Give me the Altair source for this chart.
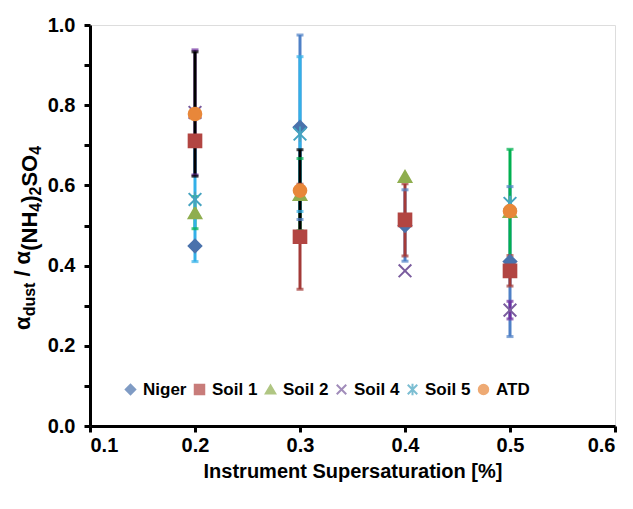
import altair as alt
import pandas as pd

# ---------------- data ----------------
series = ["Niger", "Soil 1", "Soil 2", "Soil 4", "Soil 5", "ATD"]
supersat = [0.2, 0.3, 0.4, 0.5]

niger = [0.449, 0.745, 0.500, 0.410]
niger_err = [0.0, 0.230, 0.089, 0.187]
soil1 = [0.711, 0.472, 0.514, 0.387]
soil1_err = [0.0, 0.131, 0.090, 0.038]
soil2 = [0.532, 0.577, 0.622, 0.535]
soil2_err = [0.040, 0.090, 0.0, 0.155]
soil4 = [0.782, None, 0.387, 0.289]
soil4_err = [0.156, None, 0.0, 0.022]
soil5 = [0.565, 0.728, None, 0.555]
soil5_err = [0.155, 0.193, None, 0.0]
atd = [0.778, 0.587, None, 0.536]
atd_err = [0.155, 0.102, None, 0.0]

marker_colors = ["#4A72AC", "#B24542", "#8FAE4F", "#7A5C9E", "#46A3C0", "#E8873A"]
marker_shapes = ["diamond", "square", "triangle-up",
                 "M-1,-1L1,1M-1,1L1,-1",
                 "M-1,-1L1,1M-1,1L1,-1M0,-1.2L0,1.2",
                 "circle"]
err_colors = ["#4F80C6", "#A33A38", "#00B050", "#7030A0", "#33B0E8", "#000000"]

values = [niger, soil1, soil2, soil4, soil5, atd]
errors = [niger_err, soil1_err, soil2_err, soil4_err, soil5_err, atd_err]

pts, bars, caps = [], [], []
for i, s in enumerate(series):
    for j, xv in enumerate(supersat):
        v = values[i][j]
        if v is None:
            continue
        pts.append({"series": s, "x": xv, "y": v, "order": i})
        e = errors[i][j]
        if e:
            bars.append({"series": s, "x": xv, "lo": v - e, "hi": v + e,
                         "ecolor": err_colors[i], "order": i})
            caps.append({"series": s, "x": xv, "y": v - e, "ecolor": err_colors[i], "order": i})
            caps.append({"series": s, "x": xv, "y": v + e, "ecolor": err_colors[i], "order": i})

pts_df = pd.DataFrame(pts)
bars_df = pd.DataFrame(bars)
caps_df = pd.DataFrame(caps)

FONT = "Liberation Sans"

x_enc = alt.X("x:Q", scale=alt.Scale(domain=[0.1, 0.6], nice=False, zero=False),
              axis=alt.Axis(values=[0.1, 0.2, 0.3, 0.4, 0.5, 0.6], format=".1f",
                            title="Instrument Supersaturation [%]",
                            titleFont=FONT, titleFontSize=20, titleFontWeight="bold",
                            titleColor="black", titlePadding=6,
                            labelFont=FONT, labelFontSize=20, labelFontWeight="bold",
                            labelColor="black", labelPadding=3,
                            tickSize=6, tickWidth=3, tickColor="black",
                            domainWidth=3, domainColor="black", grid=False))

y_scale = alt.Scale(domain=[0, 1], nice=False, zero=True)
y_axis = alt.Axis(values=[round(k * 0.1, 1) for k in range(11)],
                  labelExpr="round(datum.value*10) % 2 == 0 ? format(datum.value, '.1f') : ''",
                  title=None,
                  labelFont=FONT, labelFontSize=20, labelFontWeight="bold",
                  labelColor="black", labelPadding=9,
                  tickSize=6, tickWidth=3, tickColor="black",
                  domainWidth=3, domainColor="black", grid=False)

rules = alt.Chart(bars_df).mark_rule(strokeWidth=3).encode(
    x=x_enc,
    y=alt.Y("lo:Q", scale=y_scale, axis=y_axis),
    y2="hi:Q",
    color=alt.Color("ecolor:N", scale=None),
    order="order:Q",
)

cap_marks = alt.Chart(caps_df).mark_tick(orient="horizontal", size=7, thickness=3).encode(
    x=x_enc,
    y=alt.Y("y:Q", scale=y_scale, axis=y_axis),
    color=alt.Color("ecolor:N", scale=None),
    order="order:Q",
)

legend = alt.Legend(title=None, orient="none", legendX=32, legendY=356,
                    direction="horizontal", columns=6, gridAlign="none",
                    labelFont=FONT, labelFontSize=17, labelFontWeight="bold",
                    labelColor="black", symbolSize=90, symbolStrokeWidth=2,
                    labelOffset=4, columnPadding=3, symbolOpacity=1)

points = alt.Chart(pts_df).mark_point(filled=True, opacity=1, size=160, strokeWidth=2).encode(
    x=x_enc,
    y=alt.Y("y:Q", scale=y_scale, axis=y_axis),
    color=alt.Color("series:N", scale=alt.Scale(domain=series, range=marker_colors), legend=legend),
    stroke=alt.Stroke("series:N", scale=alt.Scale(domain=series, range=marker_colors), legend=legend),
    shape=alt.Shape("series:N", scale=alt.Scale(domain=series, range=marker_shapes), legend=legend),
    order="order:Q",
)

# ---- y-axis title with subscripts, built from rotated text pieces ----
# (text, font size, baseline level, gap before in px)
title_pieces = [
    ("\u03b1", 22, 0, 0),
    ("dust", 16, 1, 0),
    ("/", 22, 0, 6),
    ("\u03b1", 22, 0, 6),
    ("(NH", 22, 2, 0),
    ("4", 16, 3, 0),
    (")", 22, 2, 0),
    ("2", 16, 3, 0),
    ("SO", 22, 2, 0),
    ("4", 16, 3, 0),
]
em = {"\u03b1": 0.62, "d": 0.611, "u": 0.611, "s": 0.556, "t": 0.333, " ": 0.278,
      "/": 0.278, "(": 0.333, ")": 0.333, "N": 0.722, "H": 0.722, "4": 0.556,
      "2": 0.556, "S": 0.667, "O": 0.778}
base_x = {0: -60, 1: -55, 2: -53, 3: -49}
cur_y = 305
title_layers = []
for txt, fs, lvl, gap in title_pieces:
    cur_y -= gap
    title_layers.append(
        alt.Chart(alt.Data(values=[{}])).mark_text(
            text=txt, angle=270, align="left", baseline="alphabetic",
            font=FONT, fontSize=fs, fontWeight="bold", color="black"
        ).encode(x=alt.value(base_x[lvl]), y=alt.value(cur_y))
    )
    cur_y -= sum(em[c] for c in txt) * fs

chart = alt.layer(rules, cap_marks, points, *title_layers).properties(
    width=525, height=401, autosize="none",
    padding={"left": 82, "top": 17, "right": 10, "bottom": 60},
).configure_view(stroke="black", strokeWidth=3).configure(background="white")

chart.save("out.html", embed_options={"renderer": "svg", "actions": False})
